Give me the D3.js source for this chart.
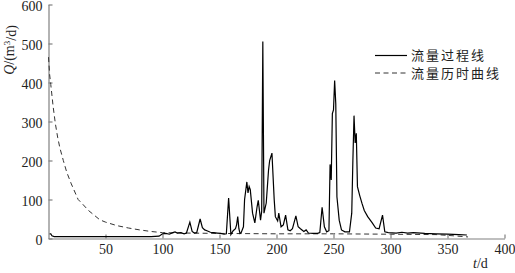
<!DOCTYPE html>
<html>
<head>
<meta charset="utf-8">
<script src="https://cdn.jsdelivr.net/npm/d3@7"></script>
<style>
  body { margin: 0; background: #fff; }
  svg { display: block; }
  .axis path, .axis line { stroke: #808080; stroke-width: 1.2; }
  .axis text { font-family: "Liberation Serif", "DejaVu Serif", serif; font-size: 14px; fill: #222; }
</style>
</head>
<body>
<svg id="chart" width="515" height="273"></svg>
<script>
"use strict";

// hydrograph (daily flow), key points
var flowDays = [1, 2, 3, 5, 30, 60, 90, 97, 100, 103, 106, 109, 111, 113, 116, 119, 121, 124, 126, 128, 130, 133, 135, 137, 139, 142, 145, 148, 151, 154, 156, 158, 160, 162, 164, 165, 166, 167, 168, 169, 171, 172, 174, 175, 176, 177, 179, 181, 183, 184, 186, 187, 188, 189, 191, 192, 193, 194, 196, 198, 199, 201, 202, 204, 206, 208, 210, 212, 214, 217, 219, 221, 224, 226, 228, 232, 236, 238, 240, 242, 244, 246, 247, 248, 249, 250, 251, 252, 253, 255, 257, 260, 264, 266, 267, 268, 269, 270, 271, 273, 275, 277, 280, 284, 287, 290, 293, 295, 298, 305, 310, 315, 320, 330, 340, 350, 360, 367];
var flowValues = [12, 12, 7, 5, 5, 5, 5, 6, 12, 13, 11, 15, 17, 14, 15, 12, 14, 42, 18, 14, 15, 50, 28, 22, 20, 16, 15, 14, 13, 11, 12, 104, 10, 20, 25, 35, 56, 25, 13, 15, 30, 100, 145, 117, 133, 125, 65, 40, 82, 98, 47, 70, 505, 65, 91, 133, 175, 200, 219, 99, 56, 45, 65, 30, 35, 60, 22, 20, 25, 58, 30, 25, 18, 22, 14, 13, 13, 15, 80, 30, 17, 20, 190, 150, 320, 330, 405, 345, 107, 47, 22, 17, 17, 65, 200, 315, 245, 270, 133, 110, 90, 72, 56, 40, 27, 25, 60, 17, 15, 14, 16, 14, 15, 13, 12, 11, 10, 9];

// flow duration curve
var durDays = [0, 1, 2, 4, 6, 8, 10, 13, 16, 20, 26, 30, 35, 40, 45, 50, 60, 70, 80, 90, 100, 120, 150, 200, 250, 300, 340, 355, 368];
var durValues = [465, 420, 395, 340, 295, 260, 232, 200, 170, 140, 100, 88, 72, 60, 48, 42, 33, 27, 22, 18, 15, 14, 13, 12, 12, 11, 10, 7, 4];

var xTicks = [50, 100, 150, 200, 250, 300, 350, 400];
var yTicks = [0, 100, 200, 300, 400, 500, 600];
var legendLabels = ["流量过程线", "流量历时曲线"];

var svg = d3.select("#chart");

var x = d3.scaleLinear().domain([0, 400]).range([48.5, 504.5]);
var y = d3.scaleLinear().domain([0, 600]).range([238.5, 4.5]);

var xAxis = svg.append("g")
    .attr("class", "axis")
    .attr("transform", "translate(0,238.5)")
    .call(d3.axisBottom(x).tickValues(xTicks).tickSizeInner(-4).tickSizeOuter(0).tickPadding(6))
;

var yAxis = svg.append("g")
    .attr("class", "axis")
    .attr("transform", "translate(48.5,0)")
    .call(d3.axisLeft(y).tickValues(yTicks).tickSizeInner(-4).tickSizeOuter(0).tickPadding(6))
;
yAxis.selectAll("text").attr("dy", "0.42em");

var line = d3.line()
    .x(function(d){return x(d[0]);})
    .y(function(d){return y(d[1]);})
;

svg.append("path")
    .datum(durDays.map(function(d, i){return [d, durValues[i]];}))
    .attr("d", line)
    .attr("fill", "none")
    .attr("stroke", "#333")
    .attr("stroke-width", 1)
    .attr("stroke-dasharray", "5,3.5")
;

svg.append("path")
    .datum(flowDays.map(function(d, i){return [d, flowValues[i]];}))
    .attr("d", line)
    .attr("fill", "none")
    .attr("stroke", "#000")
    .attr("stroke-width", 1.2)
;

// axis titles
var yTitle = svg.append("text")
    .attr("transform", "translate(14,50) rotate(-90)")
    .attr("text-anchor", "middle")
    .style("font-family", "Liberation Serif, serif")
    .style("font-size", "14px")
    .style("fill", "#222")
;
yTitle.append("tspan").style("font-style", "italic").text("Q");
yTitle.append("tspan").text("/(m");
yTitle.append("tspan").attr("dy", "-0.45em").style("font-size", "9px").text("3");
yTitle.append("tspan").attr("dy", "0.45em").text("/d)");

var xTitle = svg.append("text")
    .attr("x", 473)
    .attr("y", 268)
    .style("font-family", "Liberation Serif, serif")
    .style("font-size", "14px")
    .style("fill", "#222")
;
xTitle.append("tspan").style("font-style", "italic").text("t");
xTitle.append("tspan").text("/d");

// legend
var legend = svg.append("g");
legendLabels.forEach(function(label, i) {
    var ly = 55.5 + i * 17.5;
    legend.append("line")
        .attr("x1", 375).attr("x2", 407)
        .attr("y1", ly).attr("y2", ly)
        .attr("stroke", i === 0 ? "#000" : "#333")
        .attr("stroke-width", i === 0 ? 1.2 : 1)
        .attr("stroke-dasharray", i === 0 ? null : "5,3.5")
    ;
    legend.append("text")
        .attr("x", 411)
        .attr("y", ly + 4.5)
        .style("font-family", "Noto Sans CJK SC, sans-serif")
        .style("font-size", "13px")
        .style("letter-spacing", "2px")
        .style("fill", "#222")
        .text(label)
    ;
});
</script>
</body>
</html>
